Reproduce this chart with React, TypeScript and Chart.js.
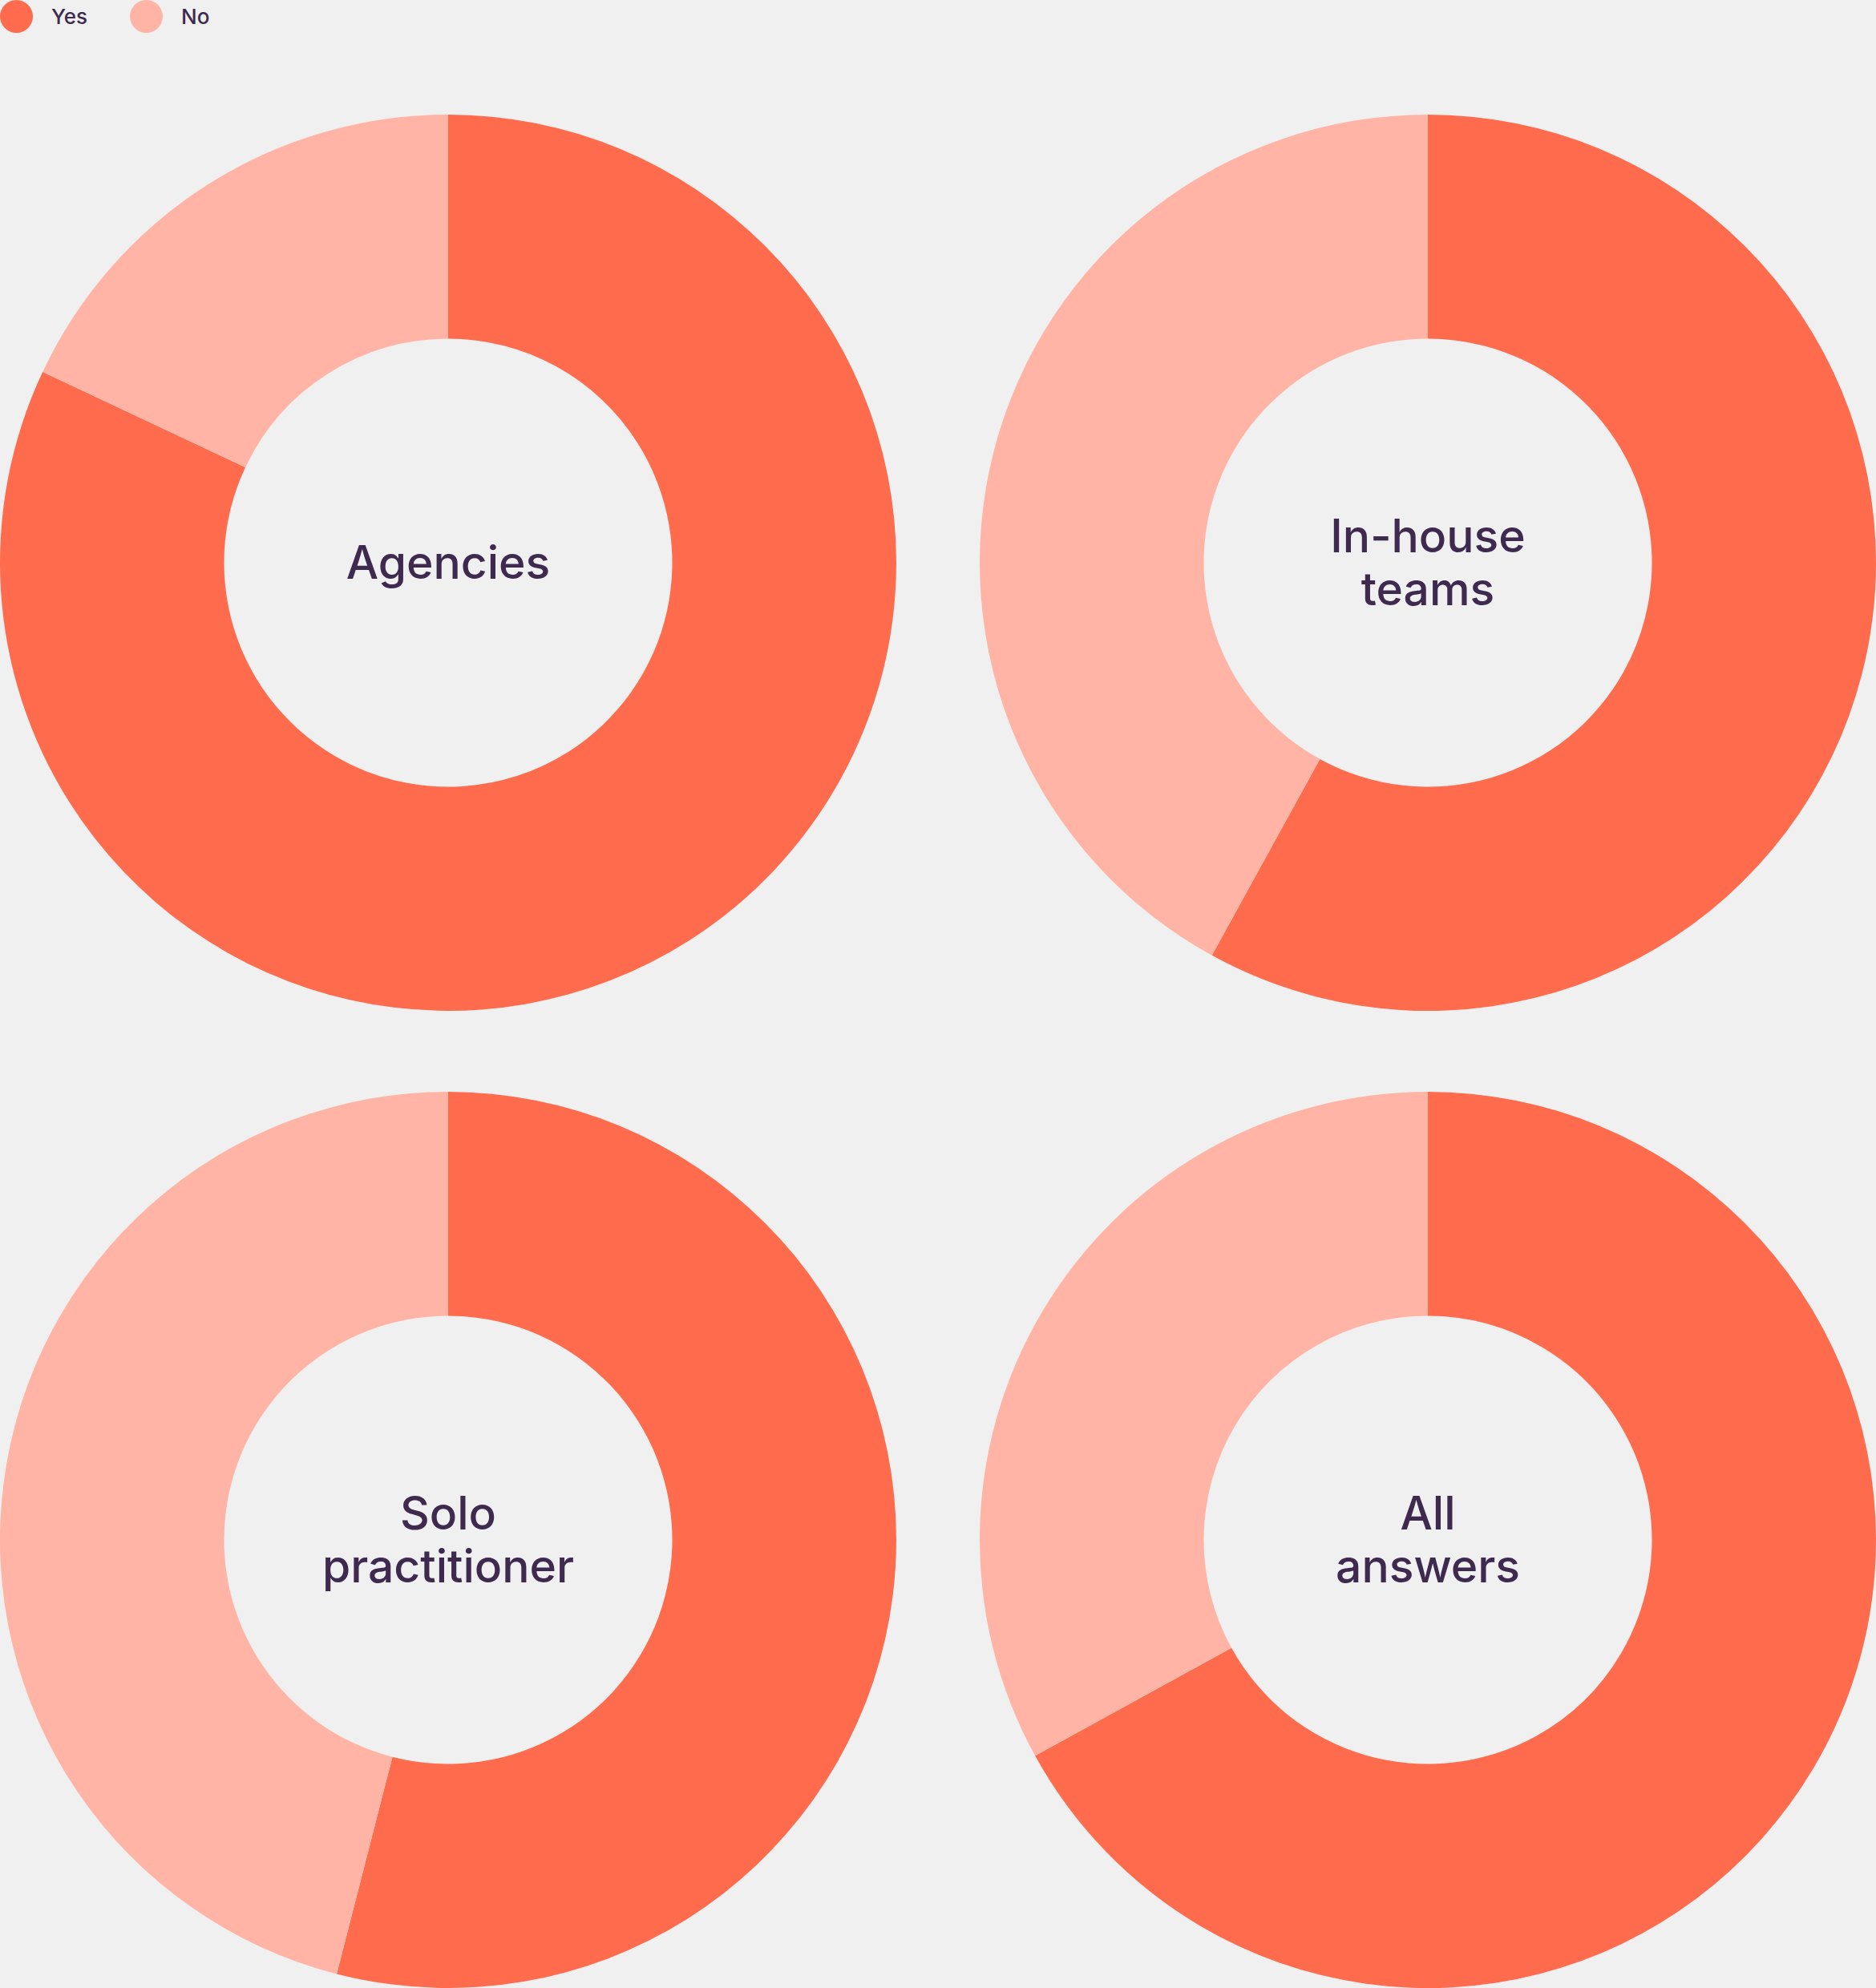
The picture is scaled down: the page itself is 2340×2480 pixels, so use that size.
import React, { useEffect, useRef } from "react";
import { Chart, registerables } from "chart.js";

Chart.register(...registerables);

const categories = ["Yes", "No"];
const groupLabels = [["Agencies"], ["In-house", "teams"], ["Solo", "practitioner"], ["All", "answers"]];
const yesValues = [82, 58, 54, 67];
const noValues = [18, 42, 46, 33];
const sliceColors = ["#FF6B4D", "#FFB4A5"];

const BG = "#F0F0F0";
const TEXT = "#3E2A4E";
const FONT = "Inter, 'Noto Sans', sans-serif";
const BOX = 1118;
const positions = [
  { left: 0, top: 143 },
  { left: 1222, top: 143 },
  { left: 0, top: 1362 },
  { left: 1222, top: 1362 },
];

function Donut({ index }: { index: number }) {
  const ref = useRef<HTMLCanvasElement | null>(null);
  useEffect(() => {
    if (!ref.current) return;
    const chart = new Chart(ref.current, {
      type: "doughnut",
      data: {
        labels: categories,
        datasets: [
          {
            data: [yesValues[index], noValues[index]],
            backgroundColor: sliceColors,
            borderWidth: 0,
            hoverOffset: 0,
          },
        ],
      },
      options: {
        responsive: false,
        animation: false,
        cutout: "50%",
        layout: { padding: 0 },
        plugins: { legend: { display: false }, tooltip: { enabled: false } },
        events: [],
      },
    });
    return () => chart.destroy();
  }, [index]);
  const pos = positions[index];
  return (
    <div style={{ position: "absolute", left: pos.left, top: pos.top, width: BOX, height: BOX }}>
      <canvas ref={ref} width={BOX} height={BOX} style={{ display: "block", width: BOX, height: BOX }} />
      <div
        style={{
          position: "absolute",
          left: 0,
          top: 0,
          width: BOX,
          height: BOX,
          display: "flex",
          flexDirection: "column",
          alignItems: "center",
          justifyContent: "center",
          fontFamily: FONT,
          fontWeight: 500,
          fontSize: 57,
          lineHeight: "66px",
          color: TEXT,
          textAlign: "center",
          pointerEvents: "none",
        }}
      >
        {groupLabels[index].map((l, i) => (
          <div key={i}>{l}</div>
        ))}
      </div>
    </div>
  );
}

export default function App() {
  useEffect(() => {
    document.body.style.margin = "0";
    document.body.style.background = BG;
  }, []);
  return (
    <div style={{ position: "absolute", left: 0, top: 0, width: 2340, height: 2480, background: BG, overflow: "hidden" }}>
      <div style={{ position: "absolute", left: 0, top: 0, height: 41, display: "flex", alignItems: "center", fontFamily: FONT, fontWeight: 500, fontSize: 26, color: TEXT }}>
        {categories.map((c, i) => (
          <div key={c} style={{ display: "flex", alignItems: "center" }}>
            <span style={{ display: "inline-block", width: 41, height: 41, borderRadius: "50%", background: sliceColors[i], marginLeft: i === 0 ? 0 : 53 }} />
            <span style={{ marginLeft: 23 }}>{c}</span>
          </div>
        ))}
      </div>
      {positions.map((_, i) => (
        <Donut key={i} index={i} />
      ))}
    </div>
  );
}
